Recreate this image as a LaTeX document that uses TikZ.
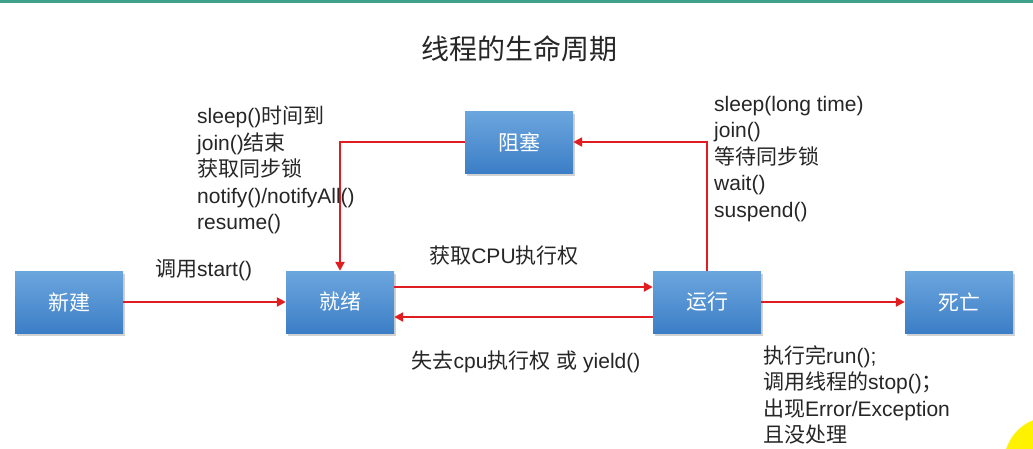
\documentclass[tikz,border=0pt]{standalone}
\usepackage{fontspec}
\setmainfont{Liberation Sans}
\newfontfamily\cjk{Noto Sans CJK SC}
\usetikzlibrary{shadows,arrows.meta}
\definecolor{boxtop}{HTML}{6CA6DE}
\definecolor{boxbot}{HTML}{3C7EC6}
\definecolor{arrred}{HTML}{E01E22}
\definecolor{topline}{HTML}{3FA08C}
\definecolor{txt}{HTML}{262626}
\tikzset{
  state/.style={minimum width=108pt, minimum height=62pt, inner sep=0pt,
    top color=boxtop, bottom color=boxbot, draw=none,
    drop shadow={shadow xshift=2pt, shadow yshift=-2.5pt, opacity=0.35},
    text=white, font=\cjk\fontsize{21}{24}\selectfont},
  arr/.style={draw=arrred, line width=2.3pt, -{Triangle[length=9pt,width=9pt]}},
  lbl/.style={text=txt, font=\fontsize{21}{26.5}\selectfont, inner sep=0pt, align=left},
}
\begin{document}
\begin{tikzpicture}[x=1pt,y=-1pt]
\useasboundingbox (0,0) rectangle (1033,448);
\fill[white] (0,0) rectangle (1033,448);
\fill[topline] (0,0) rectangle (1033,3);
\begin{scope}
\clip (0,0) rectangle (1033,448);
\fill[yellow] (1050,463) circle (46);
\end{scope}

\node[lbl, font=\cjk\fontsize{28}{32}\selectfont] (title) at (519,49) {线程的生命周期};

\node[state] (xj) at (69,302) {新建};
\node[state] (jx) at (340,302) {就绪};
\node[state] (yx) at (707,302) {运行};
\node[state] (sw) at (959,302) {死亡};
\node[state] (zs) at (519,142) {阻塞};

\draw[arr] (xj.east) -- (jx.west);
\draw[arr] ([yshift=15pt]jx.east) -- ([yshift=15pt]yx.west);
\draw[arr] ([yshift=-15pt]yx.west) -- ([yshift=-15pt]jx.east);
\draw[arr] (yx.east) -- (sw.west);
\draw[arr] (yx.north) |- (zs.east);
\draw[arr] (zs.west) -| (jx.north);

\node[lbl, anchor=west] (lstart) at (155,270) {{\cjk 调用}start()};
\node[lbl, anchor=center] (lcpu) at (504,256) {{\cjk 获取}CPU{\cjk 执行权}};
\node[lbl, anchor=center] (llose) at (526,362) {{\cjk 失去}cpu{\cjk 执行权} {\cjk 或} yield()};
\node[lbl, anchor=west] (lwake) at (197,170) {sleep(){\cjk 时间到}\\join(){\cjk 结束}\\{\cjk 获取同步锁}\\notify()/notifyAll()\\resume()};
\node[lbl, anchor=west] (lblock) at (714,159) {sleep(long time)\\join()\\{\cjk 等待同步锁}\\wait()\\suspend()};
\node[lbl, anchor=west] (ldie) at (763,395) {{\cjk 执行完}run();\\{\cjk 调用线程的}stop(){\cjk ；}\\{\cjk 出现}Error/Exception\\{\cjk 且没处理}};
\end{tikzpicture}
\end{document}
